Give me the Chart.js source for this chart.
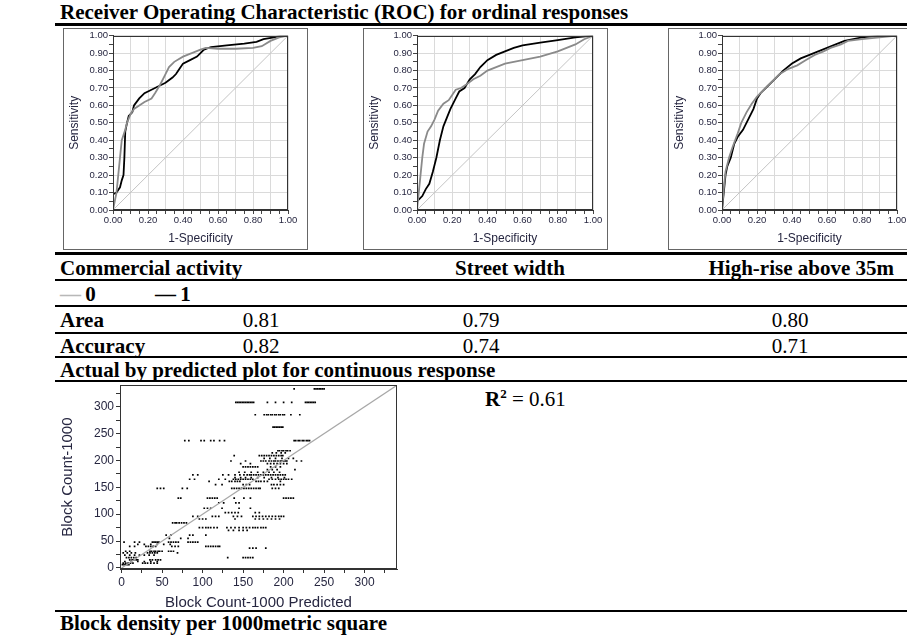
<!DOCTYPE html>
<html><head><meta charset="utf-8">
<script src="https://cdn.jsdelivr.net/npm/chart.js@4.4.0/dist/chart.umd.min.js"></script>
<style>
html,body{margin:0;padding:0;background:#fff;width:907px;height:638px;overflow:hidden;position:relative;}
.t{position:absolute;font-family:"Liberation Serif","Times New Roman",serif;font-size:21px;line-height:24px;height:24px;white-space:nowrap;color:#000;}
.b{font-weight:bold;}
.c{text-align:center;width:120px;}
.rule{position:absolute;left:55px;width:852px;height:2px;background:#000;}
.box{position:absolute;border:1px solid #666;background:#fff;overflow:hidden;}
canvas{position:absolute;}
</style></head>
<body>
<div id="root"></div>
<script>
// ---------- DATA ----------
const figureTitle = "Receiver Operating Characteristic (ROC) for ordinal responses";
const panelNames = ["Commercial activity", "Street width", "High-rise above 35m"];
const legendLabels = ["0", "1"];
const areaValues = ["0.81", "0.79", "0.80"];
const accuracyValues = ["0.82", "0.74", "0.71"];
const scatterHeading = "Actual by predicted plot for continuous response";
const r2Value = "0.61";
const bottomLabel = "Block density per 1000metric square";

// ROC: Commercial activity
const rocCommercialX0 = [0,0.01,0.02,0.03,0.04,0.05,0.07,0.08,0.10,0.12,0.15,0.18,0.22,0.24,0.27,0.30,0.32,0.35,0.40,0.45,0.50,0.53,0.60,0.70,0.80,0.85,0.90,0.95,1];
const rocCommercialY0 = [0,0.05,0.10,0.20,0.30,0.40,0.46,0.50,0.55,0.58,0.60,0.62,0.64,0.67,0.72,0.78,0.82,0.85,0.88,0.90,0.92,0.93,0.925,0.925,0.93,0.94,0.97,0.99,1];
const rocCommercialX1 = [0,0,0.02,0.04,0.05,0.06,0.065,0.07,0.08,0.09,0.11,0.12,0.15,0.18,0.22,0.26,0.30,0.34,0.36,0.38,0.40,0.44,0.48,0.52,0.56,0.65,0.75,0.82,0.86,0.92,0.96,1];
const rocCommercialY1 = [0,0.09,0.10,0.13,0.17,0.20,0.30,0.45,0.50,0.54,0.56,0.60,0.64,0.67,0.69,0.71,0.73,0.76,0.78,0.81,0.84,0.86,0.88,0.92,0.935,0.945,0.955,0.965,0.98,0.99,1,1];
// ROC: Street width
const rocStreetX0 = [0,0.01,0.02,0.03,0.04,0.06,0.08,0.10,0.12,0.15,0.18,0.20,0.22,0.25,0.28,0.32,0.36,0.40,0.45,0.50,0.60,0.70,0.80,0.90,0.95,1];
const rocStreetY0 = [0,0.10,0.20,0.30,0.38,0.45,0.48,0.52,0.57,0.61,0.63,0.66,0.69,0.70,0.72,0.75,0.77,0.80,0.82,0.84,0.86,0.88,0.91,0.95,0.98,1];
const rocStreetX1 = [0,0,0.03,0.05,0.07,0.09,0.11,0.13,0.15,0.17,0.19,0.22,0.24,0.27,0.30,0.33,0.36,0.40,0.45,0.50,0.55,0.60,0.70,0.80,0.90,1];
const rocStreetY1 = [0,0.05,0.08,0.12,0.15,0.22,0.30,0.40,0.48,0.53,0.58,0.64,0.68,0.70,0.75,0.78,0.82,0.86,0.89,0.91,0.93,0.945,0.96,0.975,0.99,1];
// ROC: High-rise above 35m
const rocHighriseX0 = [0,0.01,0.02,0.04,0.06,0.09,0.11,0.14,0.17,0.20,0.24,0.28,0.33,0.38,0.43,0.48,0.53,0.58,0.62,0.68,0.72,0.80,0.90,1];
const rocHighriseY0 = [0,0.12,0.22,0.30,0.36,0.44,0.50,0.56,0.61,0.65,0.69,0.73,0.78,0.81,0.83,0.86,0.89,0.91,0.93,0.95,0.97,0.98,0.99,1];
const rocHighriseX1 = [0,0.01,0.02,0.03,0.05,0.07,0.09,0.12,0.15,0.18,0.20,0.22,0.26,0.30,0.35,0.40,0.45,0.50,0.55,0.60,0.65,0.70,0.80,0.90,1];
const rocHighriseY1 = [0,0.10,0.20,0.25,0.30,0.38,0.42,0.46,0.52,0.58,0.64,0.67,0.71,0.75,0.80,0.84,0.87,0.89,0.91,0.93,0.95,0.97,0.99,1,1];

// Scatter: actual values (levels) and predicted values observed at each level
const scatterActualLevels = [333,308,285,262,237,218,214,209,204,199,194,188,183,178,173,168,165,161,155,148,130,121,111,103,96,91,84,75,70,61,55,48,44,40,37,31,28,24,19,15,12,9,6];
const scatterPredictedByLevel = [
 [213,238,240,242,244,246,248,250],
 [141,143,145,147,149,151,153,155,157,159,161,163,180,190,200,210,227,229,231,233,235,237,239],
 [165,176,179,181,184,186,189,191,194,196,199,201,209,220],
 [187,189,191,193,195,197,199],
 [78,83,98,102,110,114,121,127,213,215,218,220,223,225,228,230,232],
 [193,195,198,200,203,205,208],
 [186,191,197,202],
 [139,170,173,176,179,182,185,188,191,194,197,199],
 [176,183,190,198,206,212],
 [135,153,172,175,178,182,185,188,190,193,196,198,200,202,204,216,222],
 [147,159,180,184,188,192,196,200,204],
 [150,153,156,159,162,165,168,184,190,196],
 [180,186,192,214],
 [145,152,160,168,175,182,188,195],
 [88,94,125,132,140,146,151,155,158,160,163,166,169,172,175,178,181,184,187,190,193,196,199,202],
 [140,147,153,160,168,176,185,193,201],
 [84,90,120,128,138,141,144,147,150,153,156,159,162,182,186,190,194,197,200,203,206,210],
 [108,133,136,140,143,146,166,169,172,176,180,196],
 [116,124,150,154,158,185,188,192,196,200],
 [44,48,52,75,81,136,139,142,145,148,151,154,157,160,163,166,169,171,186,190,194],
 [70,73,106,109,112,115,118,139,151,159,200,203,206,209,212],
 [120,126,141,145],
 [102,106,110,124,145,159],
 [128,132,136,140,144,165,170],
 [88,94,112,116,120,138,143,148,162,166,170,174,178,182,186,190,194,197,200],
 [96,100,104,140,165,170,175,180,185,190,195],
 [63,66,68,71,74,77,80],
 [96,100,104,107,110,114,118,130,135,140,145,150,154,158,162,165,168,172,175,178],
 [132,138,145,150,155],
 [55,61,84,88,104],
 [59,73,82],
 [3,16,22,38,40,42,44,46,58,61,64,67,70,82,85,88,91,94],
 [20,28,36,44,52,60],
 [10,16,30,33,36,39,42,62,66,70,104,107,110,113,116,119,121],
 [158,162,166,178],
 [5,10,35,37,40,42,45,47,50,58,61,64],
 [2,7,12,17,32,35,38,41,44,69],
 [4,10,16,22,28,34,40],
 [6,9,12,15,18,131,150,153,156,159,162],
 [10,13,15,18,20,35,38,42,45,48],
 [4,12,20,28,36,44],
 [2,5,8,11,14,26,29,32,36,40,44],
 [1,3,5,7,9]
];

// ---------- LAYOUT ----------
const root = document.getElementById('root');
function el(tag, cls, css, html){const e=document.createElement(tag); if(cls) e.className=cls; Object.assign(e.style, css||{}); if(html!==undefined) e.innerHTML=html; root.appendChild(e); return e;}
function text(str, left, cy, bold, extra){ return el('div', 't'+(bold?' b':''), Object.assign({left:left+'px', top:(cy-12)+'px'}, extra||{}), str); }
function ctext(str, cx, cy, bold){ return el('div', 't c'+(bold?' b':''), {left:(cx-60)+'px', top:(cy-12)+'px'}, str); }
function rule(y, h){ el('div','rule',{top:y+'px', height:(h||2)+'px'}); }

text(figureTitle, 60, 12, true);
rule(23, 3);
rule(252, 3);
text(panelNames[0], 60, 268, true);
ctext(panelNames[1], 510, 268, true);
text(panelNames[2], 0, 268, true, {left:'auto', right:'13px'});
rule(279, 2);
text('<span style="color:#b8b8b8">\u2014</span>\u2009' + legendLabels[0], 60, 294, true);
text('\u2014\u2009' + legendLabels[1], 155, 294, true);
rule(305, 2);
text('Area', 60, 320, true);
ctext(areaValues[0], 261, 320, false);
ctext(areaValues[1], 481, 320, false);
ctext(areaValues[2], 790, 320, false);
rule(332, 2);
text('Accuracy', 60, 346, true);
ctext(accuracyValues[0], 261, 346, false);
ctext(accuracyValues[1], 481, 346, false);
ctext(accuracyValues[2], 790, 346, false);
rule(356, 2);
text(scatterHeading, 60, 370, true);
rule(380, 2);
text('<b>R<sup style="font-size:13px;line-height:0;vertical-align:8px">2</sup></b> = ' + r2Value, 485, 399, false);
rule(610, 2);
text(bottomLabel, 60, 623, true);

// ---------- CHARTS ----------
Chart.defaults.font.family = "'Liberation Sans', Arial, sans-serif";
const frame = {id:'frame', afterDatasetsDraw(ch){const a=ch.chartArea, c=ch.ctx; c.save(); c.strokeStyle='#333'; c.lineWidth=1;
  c.strokeRect(Math.round(a.left)+0.5, Math.round(a.top)+0.5, Math.round(a.right-a.left)-1, Math.round(a.bottom-a.top)-1); c.restore();}};
const zip = (xs, ys) => xs.map((x,i)=>({x:x, y:ys[i]}));
const labelColor = '#262640';

function rocChart(boxLeft, boxTop, boxW, boxH, plotL, plotR, plotT, plotB, xs0, ys0, xs1, ys1){
  const box = el('div','box',{left:boxLeft+'px', top:boxTop+'px', width:(boxW-2)+'px', height:(boxH-2)+'px'});
  const cv = document.createElement('canvas');
  const W = boxW-2, H = boxH-2;
  cv.width = W; cv.height = H; cv.style.left='0px'; cv.style.top='0px';
  box.appendChild(cv);
  const gridCol = (ctx) => (ctx.tick && Math.round(ctx.tick.value*100)%10===0) ? '#dadada' : 'rgba(0,0,0,0)';
  new Chart(cv, {
    type:'scatter',
    data:{datasets:[
      {data:[{x:0,y:0},{x:1,y:1}], showLine:true, borderColor:'#c4c4c4', borderWidth:1, pointRadius:0},
      {data:zip(xs0,ys0), showLine:true, borderColor:'#8a8a8a', borderWidth:1.8, pointRadius:0},
      {data:zip(xs1,ys1), showLine:true, borderColor:'#000', borderWidth:1.8, pointRadius:0}
    ]},
    options:{
      responsive:false, animation:false, events:[],
      layout:{padding:{left:0, right:W-plotR, top:plotT, bottom:0}},
      plugins:{legend:{display:false}, tooltip:{enabled:false}},
      scales:{
        x:{type:'linear', min:0, max:1,
           ticks:{stepSize:0.05, autoSkip:false, maxRotation:0, padding:1, color:labelColor, font:{size:9.5},
                  callback:(v)=> (Math.round(v*100)%20===0) ? v.toFixed(2) : ''},
           grid:{color:gridCol, tickColor:'#444', tickLength:4},
           border:{color:'#333'},
           title:{display:true, text:'1-Specificity', color:labelColor, font:{size:12}, padding:{top:0,bottom:3}},
           afterFit:(s)=>{s.height = H - plotB;}},
        y:{type:'linear', min:0, max:1,
           ticks:{stepSize:0.05, autoSkip:false, padding:1, color:labelColor, font:{size:9.5},
                  callback:(v)=> (Math.round(v*100)%10===0) ? v.toFixed(2) : ''},
           grid:{color:gridCol, tickColor:'#444', tickLength:4},
           border:{color:'#333'},
           title:{display:true, text:'Sensitivity', color:labelColor, font:{size:12}, padding:{top:3,bottom:0}},
           afterFit:(s)=>{s.width = plotL;}}
      }
    },
    plugins:[frame]
  });
}
// box: left, top, width, height ; plot area relative to inner box: left, right, top, bottom
rocChart(63, 28, 245, 222, 49, 224, 5, 181, rocCommercialX0, rocCommercialY0, rocCommercialX1, rocCommercialY1);
rocChart(363, 28, 245, 222, 53, 229, 5, 181, rocStreetX0, rocStreetY0, rocStreetX1, rocStreetY1);
rocChart(668, 28, 245, 222, 53, 228, 5, 181, rocHighriseX0, rocHighriseY0, rocHighriseX1, rocHighriseY1);

// scatter
(function(){
  const cv = document.createElement('canvas');
  const L=55, T=376, W=350, H=236;
  cv.width=W; cv.height=H; cv.style.left=L+'px'; cv.style.top=T+'px';
  root.appendChild(cv);
  const pts = [];
  scatterActualLevels.forEach((yv,i)=> scatterPredictedByLevel[i].forEach(xv=> pts.push({x:xv, y:yv})));
  const plotL = 120-L, plotR = 397-L, plotT = 382-T, plotB = 569-T;
  const tickCb = (v)=> (Math.round(v)%50===0) ? String(Math.round(v)) : '';
  new Chart(cv, {
    type:'scatter',
    data:{datasets:[
      {data:[{x:0,y:0},{x:340,y:340}], showLine:true, borderColor:'#a8a8a8', borderWidth:1.2, pointRadius:0},
      {data:pts, backgroundColor:'#000', borderWidth:0, pointStyle:'rect', pointRadius:1.2}
    ]},
    options:{
      responsive:false, animation:false, events:[],
      layout:{padding:{left:0, right:W-plotR, top:plotT, bottom:0}},
      plugins:{legend:{display:false}, tooltip:{enabled:false}},
      scales:{
        x:{type:'linear', min:-2, max:340,
           ticks:{stepSize:25, autoSkip:false, includeBounds:false, maxRotation:0, padding:2, color:labelColor, font:{size:12}, callback:tickCb},
           grid:{drawOnChartArea:false, tickColor:'#333', tickLength:4},
           border:{color:'#333'},
           title:{display:true, text:'Block Count-1000 Predicted', color:labelColor, font:{size:15}, padding:{top:0,bottom:0}},
           afterFit:(s)=>{s.height = H - plotB;}},
        y:{type:'linear', min:-2, max:340,
           ticks:{stepSize:25, autoSkip:false, includeBounds:false, padding:2, color:labelColor, font:{size:12}, callback:tickCb},
           grid:{drawOnChartArea:false, tickColor:'#333', tickLength:4},
           border:{color:'#333'},
           title:{display:true, text:'Block Count-1000', color:labelColor, font:{size:15}, padding:{top:4,bottom:0}},
           afterFit:(s)=>{s.width = plotL;}}
      }
    },
    plugins:[frame]
  });
})();
</script>
</body></html>
